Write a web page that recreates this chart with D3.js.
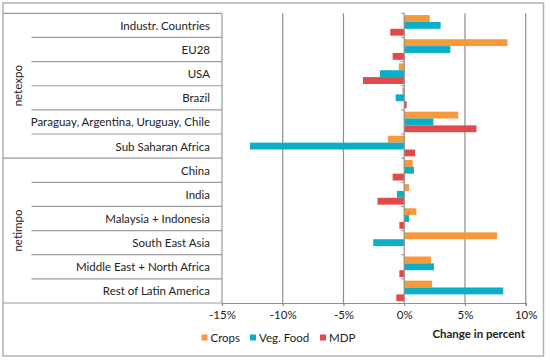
<!DOCTYPE html>
<html>
<head>
<meta charset="utf-8">
<script src="https://cdn.jsdelivr.net/npm/d3@7"></script>
<style>
  body { margin: 0; background: #fff; }
  text { font-family: Lato, "Open Sans", sans-serif; fill: #222; }
</style>
</head>
<body>
<svg id="chart"></svg>
<script>
var regions = [
  "Industr. Countries", "EU28", "USA", "Brazil",
  "Paraguay, Argentina, Uruguay, Chile", "Sub Saharan Africa",
  "China", "India", "Malaysia + Indonesia", "South East Asia",
  "Middle East + North Africa", "Rest of Latin America"
];
var groups = ["netexpo", "netimpo"];
var regionGroup = ["netexpo", "netexpo", "netexpo", "netexpo", "netexpo", "netexpo",
  "netimpo", "netimpo", "netimpo", "netimpo", "netimpo", "netimpo"];

var seriesNames = ["Crops", "Veg. Food", "MDP"];
var crops   = [2.1, 8.5, -0.45, -0.15, 4.45, -1.35, 0.7, 0.4, 1.0, 7.65, 2.2, 2.3];
var vegFood = [3.0, 3.8, -2.0, -0.7, 2.4, -12.7, 0.8, -0.6, 0.4, -2.55, 2.45, 8.15];
var mdp     = [-1.15, -0.95, -3.4, 0.2, 5.95, 0.9, -0.95, -2.2, -0.4, 0, -0.4, -0.65];

var xTicks = [-15, -10, -5, 0, 5, 10];
var colors = ["#f79a3e", "#0aaec6", "#e04a4a"];

var width = 550, height = 361;
var margin = { top: 13.3, left: 222, right: 24.3, bottom: 58 };
var svg = d3.select("#chart").attr("width", width).attr("height", height);

var x = d3.scaleLinear().domain([-15, 10]).range([margin.left, width - margin.right]);
var y = d3.scaleBand().domain(regions).range([margin.top, height - margin.bottom]);
var inner = d3.scaleBand().domain(seriesNames).range([0, y.bandwidth()]).paddingOuter(0.26);

var gridColor = "#8e8e8e";

// outer border
svg.append("rect")
  .attr("x", 3).attr("y", 3)
  .attr("width", 540.5).attr("height", 353)
  .attr("fill", "none").attr("stroke", "#b3b3b3").attr("stroke-width", 1.5);

// gridlines
svg.selectAll("line.grid")
  .data(xTicks.filter((d) => d !== 0 && d !== -15))
  .enter().append("line")
  .attr("class", "grid")
  .attr("x1", (d) => x(d)).attr("x2", (d) => x(d))
  .attr("y1", margin.top).attr("y2", height - margin.bottom)
  .attr("stroke", gridColor).attr("stroke-width", 1.2);

// category table
var tableLeft = 3, groupColRight = 31.5;
var tableColor = "#9a9a9a";
svg.append("line")
  .attr("x1", tableLeft).attr("x2", margin.left)
  .attr("y1", margin.top).attr("y2", margin.top)
  .attr("stroke", tableColor).attr("stroke-width", 1.2);
svg.append("line")
  .attr("x1", margin.left).attr("x2", margin.left)
  .attr("y1", margin.top).attr("y2", height - margin.bottom)
  .attr("stroke", tableColor).attr("stroke-width", 1.2);

regions.forEach((r, i) => {
  var yb = y(r) + y.bandwidth();
  var last = i === regions.length - 1 || regionGroup[i + 1] !== regionGroup[i];
  svg.append("line")
    .attr("x1", last ? tableLeft : groupColRight).attr("x2", margin.left)
    .attr("y1", yb).attr("y2", yb)
    .attr("stroke", tableColor).attr("stroke-width", 1.2);
  svg.append("text")
    .attr("x", 210).attr("y", y(r) + y.bandwidth() / 2)
    .attr("text-anchor", "end").attr("dominant-baseline", "central")
    .attr("font-size", 11.5)
    .text(r);
});

groups.forEach((g) => {
  var rows = regions.filter((r, i) => regionGroup[i] === g);
  var y0 = y(rows[0]), y1 = y(rows[rows.length - 1]) + y.bandwidth();
  var cy = (y0 + y1) / 2;
  svg.append("text")
    .attr("transform", `translate(17,${cy}) rotate(-90)`)
    .attr("text-anchor", "middle").attr("dominant-baseline", "central")
    .attr("font-size", 11.5)
    .text(g);
});

// bars
var series = [crops, vegFood, mdp];
series.forEach((vals, s) => {
  svg.selectAll("rect.s" + s)
    .data(vals)
    .enter().append("rect")
    .attr("class", "s" + s)
    .attr("x", (d) => x(Math.min(0, d)))
    .attr("y", (d, i) => y(regions[i]) + inner(seriesNames[s]))
    .attr("width", (d) => Math.abs(x(d) - x(0)))
    .attr("height", inner.bandwidth())
    .attr("fill", colors[s]);
});

// zero axis with category ticks
svg.append("line")
  .attr("x1", x(0)).attr("x2", x(0))
  .attr("y1", margin.top).attr("y2", height - margin.bottom)
  .attr("stroke", gridColor).attr("stroke-width", 1.2);
svg.selectAll("line.ctick")
  .data(regions)
  .enter().append("line")
  .attr("class", "ctick")
  .attr("x1", x(0) - 3).attr("x2", x(0))
  .attr("y1", (d) => y(d)).attr("y2", (d) => y(d))
  .attr("stroke", gridColor).attr("stroke-width", 1);

// x axis
var xAxis = svg.append("g")
  .attr("transform", `translate(0,${height - margin.bottom})`)
  .call(d3.axisBottom(x).tickValues(xTicks).tickSize(3).tickPadding(5)
    .tickFormat((d) => d + "%"));
xAxis.select(".domain").attr("stroke", gridColor).attr("stroke-width", 1.2);
xAxis.selectAll(".tick line").attr("stroke", gridColor).attr("stroke-width", 1.2);
xAxis.selectAll(".tick text")
  .attr("font-family", "Lato, 'Open Sans', sans-serif")
  .attr("font-size", 11.5).attr("fill", "#222");

svg.append("text")
  .attr("x", 525).attr("y", 333)
  .attr("text-anchor", "end").attr("dominant-baseline", "central")
  .attr("font-size", 11.5).attr("font-weight", "bold")
  .text("Change in percent");

// legend
var legendX = [201.5, 250, 320];
seriesNames.forEach((n, i) => {
  svg.append("rect")
    .attr("x", legendX[i]).attr("y", 334.5)
    .attr("width", 6).attr("height", 6)
    .attr("fill", colors[i]);
  svg.append("text")
    .attr("x", legendX[i] + 9).attr("y", 337.8)
    .attr("dominant-baseline", "central")
    .attr("font-size", 11.5)
    .text(n);
});
</script>
</body>
</html>
